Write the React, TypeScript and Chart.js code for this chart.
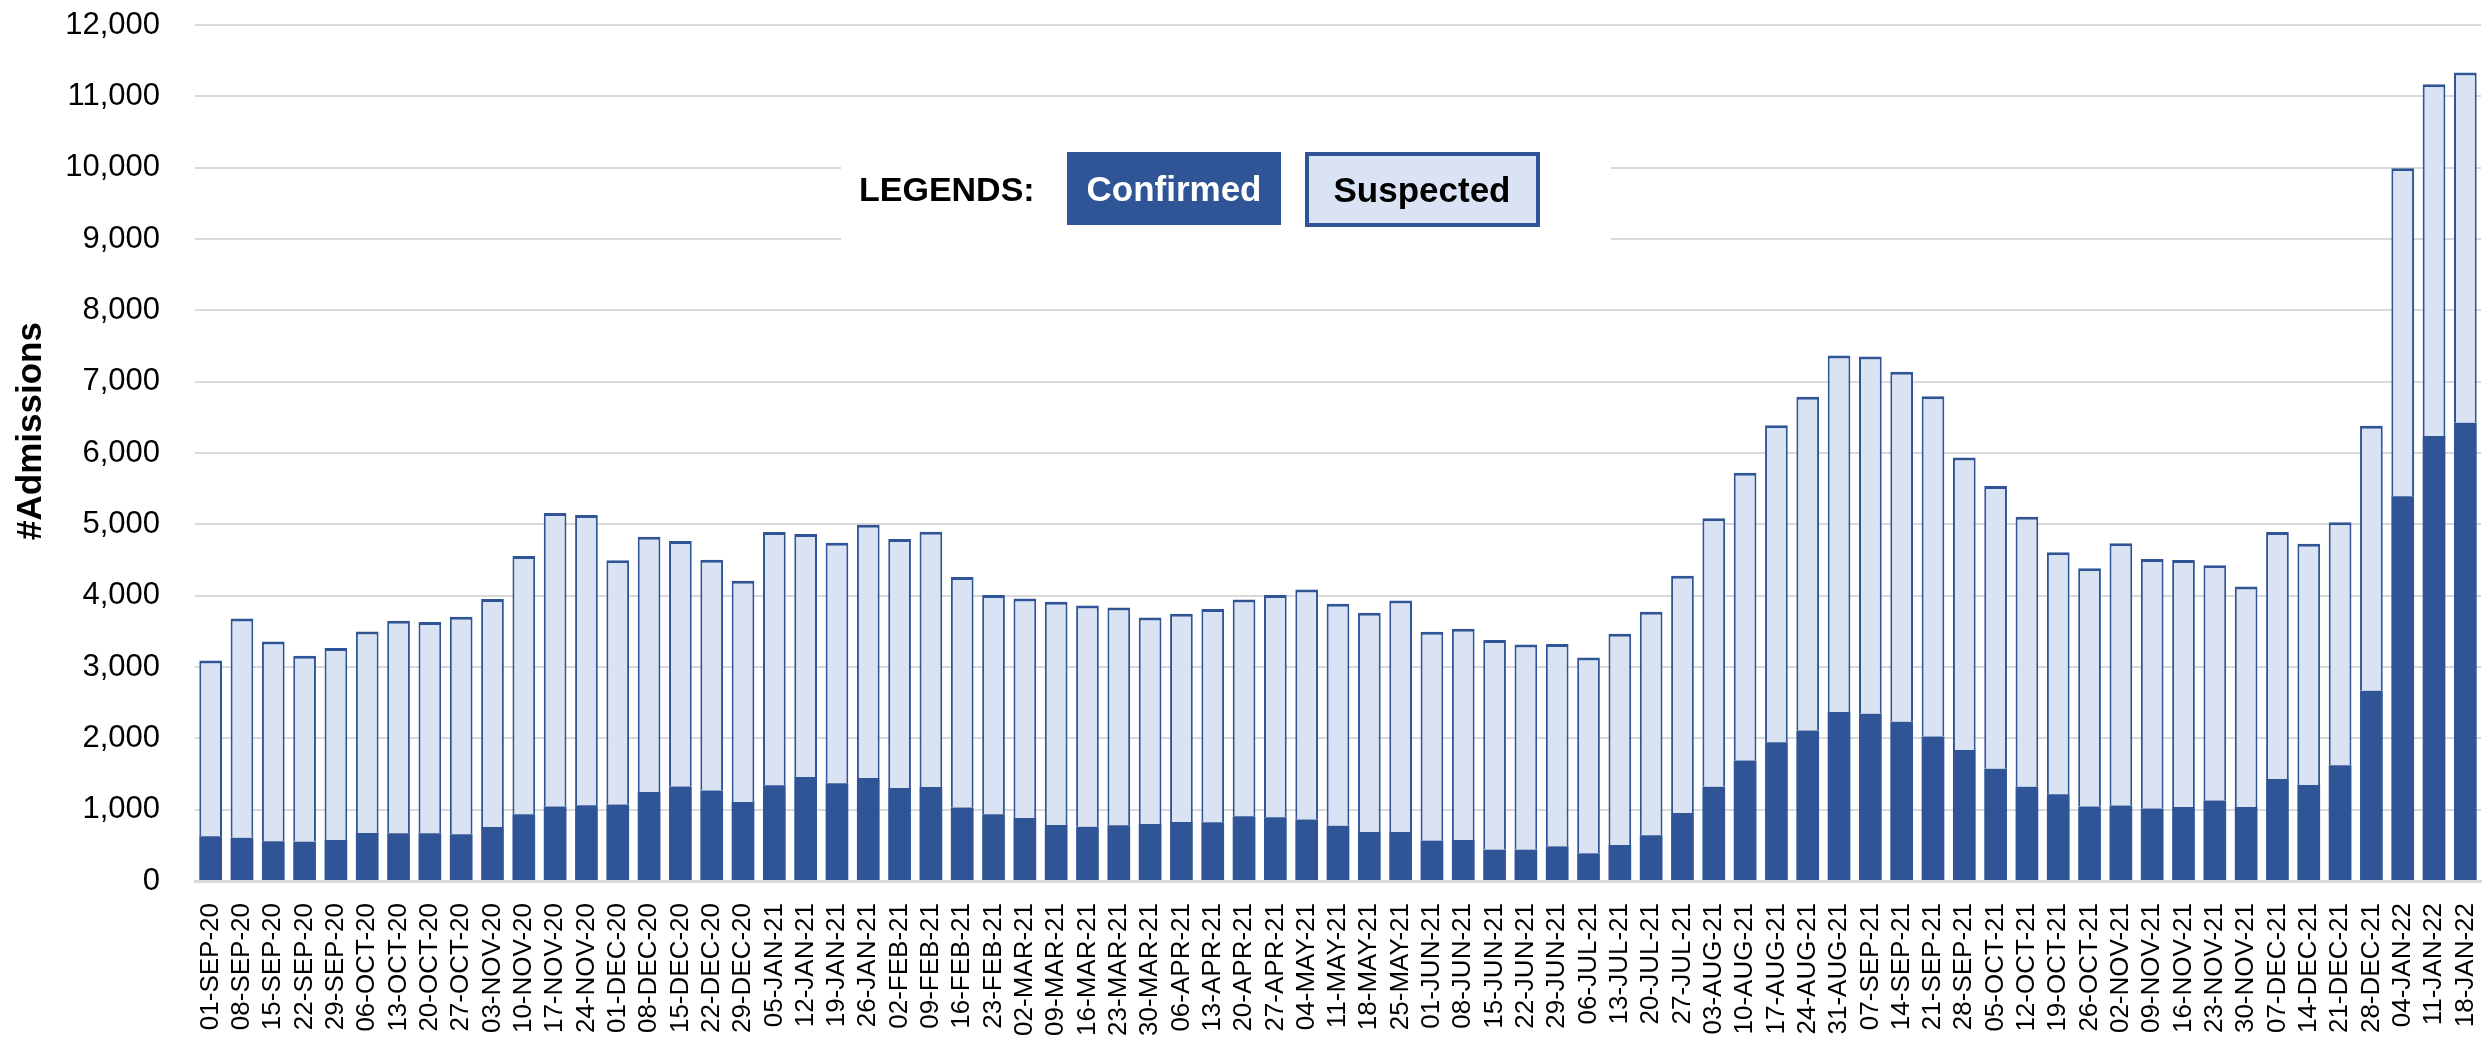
import React, { useEffect, useRef } from "react";
import { Chart, registerables } from "chart.js";

Chart.register(...registerables);

const weekLabels: string[] = [
  "01-SEP-20", "08-SEP-20", "15-SEP-20", "22-SEP-20", "29-SEP-20",
  "06-OCT-20", "13-OCT-20", "20-OCT-20", "27-OCT-20",
  "03-NOV-20", "10-NOV-20", "17-NOV-20", "24-NOV-20",
  "01-DEC-20", "08-DEC-20", "15-DEC-20", "22-DEC-20", "29-DEC-20",
  "05-JAN-21", "12-JAN-21", "19-JAN-21", "26-JAN-21",
  "02-FEB-21", "09-FEB-21", "16-FEB-21", "23-FEB-21",
  "02-MAR-21", "09-MAR-21", "16-MAR-21", "23-MAR-21", "30-MAR-21",
  "06-APR-21", "13-APR-21", "20-APR-21", "27-APR-21",
  "04-MAY-21", "11-MAY-21", "18-MAY-21", "25-MAY-21",
  "01-JUN-21", "08-JUN-21", "15-JUN-21", "22-JUN-21", "29-JUN-21",
  "06-JUL-21", "13-JUL-21", "20-JUL-21", "27-JUL-21",
  "03-AUG-21", "10-AUG-21", "17-AUG-21", "24-AUG-21", "31-AUG-21",
  "07-SEP-21", "14-SEP-21", "21-SEP-21", "28-SEP-21",
  "05-OCT-21", "12-OCT-21", "19-OCT-21", "26-OCT-21",
  "02-NOV-21", "09-NOV-21", "16-NOV-21", "23-NOV-21", "30-NOV-21",
  "07-DEC-21", "14-DEC-21", "21-DEC-21", "28-DEC-21",
  "04-JAN-22", "11-JAN-22", "18-JAN-22",
];

const confirmed: number[] = [
  627, 608, 557, 552, 575, 674, 669, 669, 655, 758,
  935, 1043, 1062, 1071, 1249, 1324, 1268, 1108, 1342, 1459,
  1370, 1445, 1305, 1319, 1029, 935, 884, 786, 762, 781,
  800, 828, 823, 907, 893, 861, 776, 688, 688, 566,
  575, 440, 440, 486, 388, 505, 641, 954, 1323, 1688,
  1946, 2110, 2368, 2346, 2232, 2024, 1838, 1574, 1323, 1216,
  1044, 1059, 1016, 1037, 1130, 1037, 1431, 1345, 1624, 2668,
  5393, 6238, 6423,
];

const suspected: number[] = [
  2465, 3073, 2801, 2605, 2690, 2825, 2979, 2961, 3049, 3194,
  3621, 4116, 4069, 3424, 3578, 3442, 3236, 3102, 3550, 3405,
  3373, 3550, 3489, 3578, 3232, 3073, 3078, 3129, 3101, 3054,
  2895, 2918, 2989, 3041, 3115, 3227, 3111, 3072, 3245, 2928,
  2961, 2937, 2876, 2835, 2746, 2961, 3134, 3326, 3763, 4034,
  4442, 4678, 5000, 5007, 4907, 4771, 4099, 3962, 3784, 3391,
  3341, 3676, 3498, 3462, 3298, 3090, 3462, 3383, 3405, 3713,
  4600, 4931, 4910,
];

const yTicks: number[] = [0, 1000, 2000, 3000, 4000, 5000, 6000, 7000, 8000, 9000, 10000, 11000, 12000];

const seriesNames = ["Confirmed", "Suspected"];
const axisTitle = "#Admissions";
const legendTitle = "LEGENDS:";

const DARK = "#2F5597";
const LIGHT = "#DAE3F3";
const GRID = "#D9D9D9";
const SANS = "'Liberation Sans', Arial, sans-serif";

const W = 2489;
const H = 1047;

const overlayPlugin = {
  id: "overlay",
  afterDraw(chart: any) {
    const ctx = chart.ctx as CanvasRenderingContext2D;
    ctx.save();
    // y-axis title
    ctx.save();
    ctx.translate(31, 431);
    ctx.rotate(-Math.PI / 2);
    ctx.font = `bold 35px ${SANS}`;
    ctx.fillStyle = "#000";
    ctx.textAlign = "center";
    ctx.textBaseline = "middle";
    ctx.fillText(axisTitle, 0, 0);
    ctx.restore();

    // legend panel
    ctx.fillStyle = "#FFFFFF";
    ctx.fillRect(841, 135, 770, 120);

    ctx.fillStyle = "#000";
    ctx.font = `bold 34px ${SANS}`;
    ctx.textAlign = "left";
    ctx.textBaseline = "middle";
    ctx.fillText(legendTitle, 859, 192);

    // Confirmed box
    ctx.fillStyle = DARK;
    ctx.fillRect(1067, 152, 214, 73);
    ctx.fillStyle = "#FFFFFF";
    ctx.font = `bold 35px ${SANS}`;
    ctx.textAlign = "center";
    ctx.fillText(seriesNames[0], 1174, 191);

    // Suspected box
    ctx.fillStyle = LIGHT;
    ctx.fillRect(1305, 152, 235, 75);
    ctx.strokeStyle = DARK;
    ctx.lineWidth = 4;
    ctx.strokeRect(1307, 154, 231, 71);
    ctx.fillStyle = "#000";
    ctx.fillText(seriesNames[1], 1422, 192);
    ctx.restore();
  },
};

export default function App() {
  const canvasRef = useRef<HTMLCanvasElement | null>(null);

  useEffect(() => {
    const canvas = canvasRef.current;
    if (!canvas) return;
    const chart = new Chart(canvas, {
      type: "bar",
      data: {
        labels: weekLabels,
        datasets: [
          {
            label: seriesNames[0],
            data: confirmed,
            backgroundColor: DARK,
            borderWidth: 0,
            barPercentage: 0.725,
            categoryPercentage: 1,
          },
          {
            label: seriesNames[1],
            data: suspected,
            backgroundColor: LIGHT,
            borderColor: DARK,
            borderWidth: { top: 3, left: 2, right: 2, bottom: 0 },
            borderSkipped: "start",
            barPercentage: 0.725,
            categoryPercentage: 1,
          },
        ],
      },
      options: {
        responsive: false,
        animation: false,
        devicePixelRatio: 1,
        layout: { padding: { top: 25, right: 8, left: 0, bottom: 0 } },
        plugins: {
          legend: { display: false },
          tooltip: { enabled: false },
          title: { display: false },
        },
        scales: {
          x: {
            stacked: true,
            grid: { display: false, drawTicks: false },
            border: { display: true, color: GRID, width: 3 },
            ticks: {
              autoSkip: false,
              maxRotation: 90,
              minRotation: 90,
              color: "#000",
              padding: 22,
              font: { family: SANS, size: 26 },
            },
            afterFit: (s: any) => {
              s.height = H - 881;
              s.paddingLeft = 0;
              s.paddingRight = 0;
            },
          },
          y: {
            stacked: true,
            min: 0,
            max: 12000,
            afterBuildTicks: (s: any) => {
              s.ticks = yTicks.map((v) => ({ value: v }));
            },
            ticks: {
              color: "#000",
              padding: 35,
              font: { family: SANS, size: 31 },
              callback: (v: any) => Number(v).toLocaleString("en-US"),
            },
            grid: { color: GRID, lineWidth: 2, drawTicks: false },
            border: { display: false },
            afterFit: (s: any) => {
              s.width = 195;
              s.paddingTop = 0;
              s.paddingBottom = 0;
            },
          },
        },
      },
      plugins: [overlayPlugin],
    });
    return () => chart.destroy();
  }, []);

  return (
    <div style={{ position: "absolute", left: 0, top: 0, width: W, height: H, background: "#fff" }}>
      <canvas ref={canvasRef} width={W} height={H} style={{ width: W, height: H, display: "block" }} />
    </div>
  );
}
